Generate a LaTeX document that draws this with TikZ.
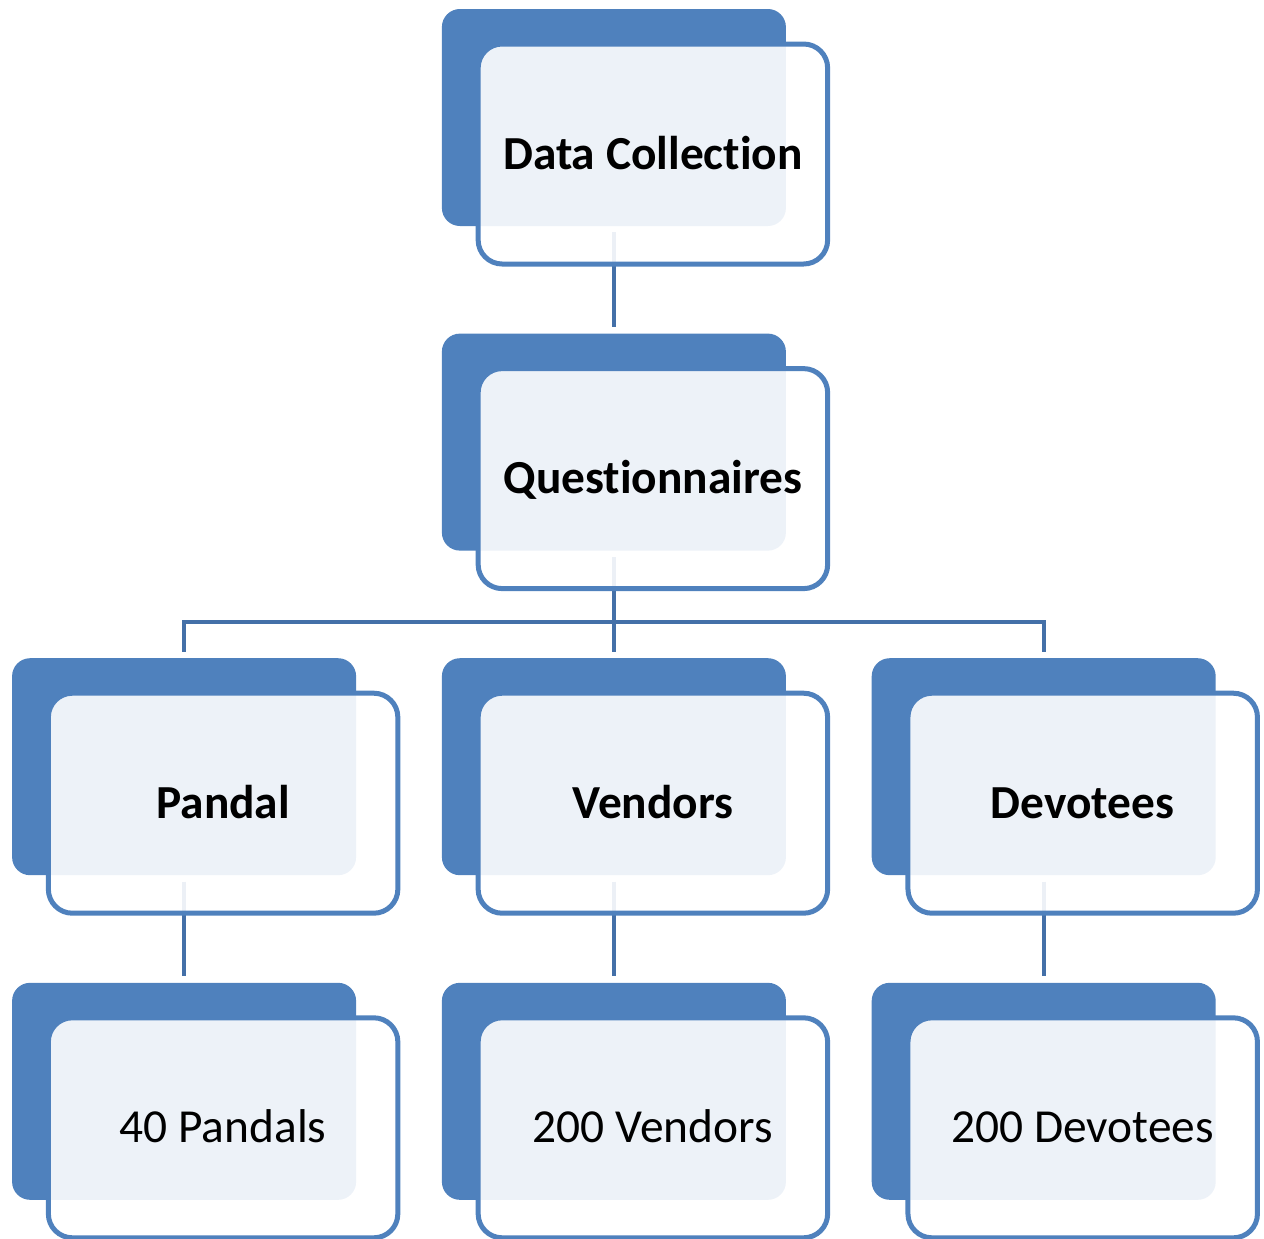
\documentclass[tikz,border=0pt]{standalone}
\usepackage{fontspec}
\setmainfont{Carlito}[Ligatures={NoCommon,NoRare,NoContextual}, Contextuals=NoAlternate]
\usepackage{tikz}
\usetikzlibrary{positioning}
\definecolor{boxblue}{RGB}{79,129,189}
\definecolor{lineblue}{RGB}{68,112,168}
\tikzstyle{backbox} = [rectangle, rounded corners=9pt, minimum width=172pt, minimum height=108.5pt, inner sep=0pt, fill=boxblue]
\tikzstyle{frontbox} = [rectangle, rounded corners=12pt, minimum width=174.75pt, minimum height=110pt, text centered, draw=boxblue, line width=2.5pt, fill=white, fill opacity=0.9, text opacity=1, text height=15pt, text depth=0pt, font=\fontsize{23.7}{28}\selectfont]
\tikzstyle{headbox} = [frontbox, font=\fontsize{23.7}{28}\selectfont\bfseries]
\tikzstyle{conn} = [draw=lineblue, line width=2pt]

\begin{document}
\begin{tikzpicture}
		\useasboundingbox (0,0) rectangle (632pt,-619pt);
		% back panels
		\node (dcback) [backbox] at (306.95pt,-58.75pt) {};
		\node (qback) [backbox, below=53.4pt of dcback] {};
		\node (vback) [backbox, below=53.4pt of qback] {};
		\node (pback) [backbox, left=42.5pt of vback] {};
		\node (dback) [backbox, right=42.5pt of vback] {};
		\node (vnback) [backbox, below=53.4pt of vback] {};
		\node (pnback) [backbox, below=53.4pt of pback] {};
		\node (dnback) [backbox, below=53.4pt of dback] {};
		
		\coordinate (fork) at ([yshift=-35.5pt]qback.south);
		\draw [conn]([yshift=-3pt]dcback.south) -- ([yshift=3pt]qback.north);
		\draw [conn]([yshift=-3pt]qback.south) -- ([yshift=3pt]vback.north);
		\draw [conn]([yshift=3pt]pback.north) |- (fork) -| ([yshift=3pt]dback.north);
		\draw [conn]([yshift=-3pt]pback.south) -- ([yshift=3pt]pnback.north);
		\draw [conn]([yshift=-3pt]vback.south) -- ([yshift=3pt]vnback.north);
		\draw [conn]([yshift=-3pt]dback.south) -- ([yshift=3pt]dnback.north);
		
		% front panels with the labels
		\node (dc) [headbox] at ([xshift=19.5pt, yshift=-18.25pt]dcback.center) {Data Collection};
		\node (q) [headbox] at ([xshift=19.5pt, yshift=-18.25pt]qback.center) {Questionnaires};
		\node (p) [headbox] at ([xshift=19.5pt, yshift=-18.25pt]pback.center) {Pandal};
		\node (v) [headbox] at ([xshift=19.5pt, yshift=-18.25pt]vback.center) {Vendors};
		\node (d) [headbox] at ([xshift=19.5pt, yshift=-18.25pt]dback.center) {Devotees};
		\node (pn) [frontbox] at ([xshift=19.5pt, yshift=-18.25pt]pnback.center) {40 Pandals};
		\node (vn) [frontbox] at ([xshift=19.5pt, yshift=-18.25pt]vnback.center) {200 Vendors};
		\node (dn) [frontbox] at ([xshift=19.5pt, yshift=-18.25pt]dnback.center) {200 Devotees};
	\end{tikzpicture}
\end{document}
